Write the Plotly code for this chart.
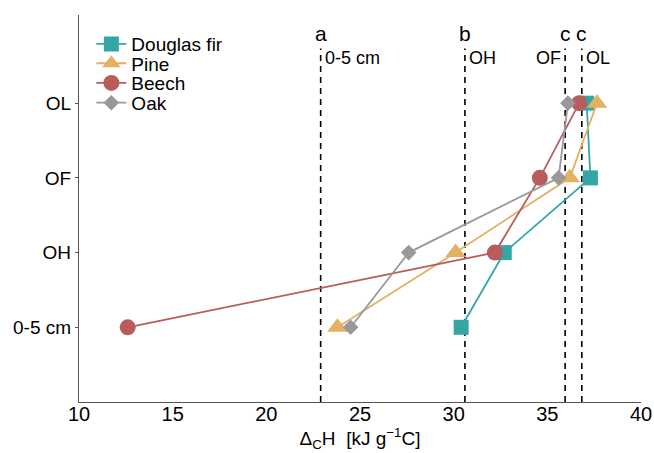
import plotly.graph_objects as go

layers = ["0-5 cm", "OH", "OF", "OL"]
species = ["Douglas fir", "Pine", "Beech", "Oak"]
values = {
    "Douglas fir": [30.4, 32.7, 37.3, 37.1],
    "Pine": [23.8, 30.1, 36.2, 37.65],
    "Beech": [12.6, 32.2, 34.6, 36.7],
    "Oak": [24.5, 27.6, 35.6, 36.1],
}
colors = {"Douglas fir": "#35A6A6", "Pine": "#E4B061", "Beech": "#B95C5C", "Oak": "#999999"}
symbols = {"Douglas fir": "square", "Pine": "triangle-up", "Beech": "circle", "Oak": "diamond"}
sizes = {"Douglas fir": 15, "Pine": 18, "Beech": 16, "Oak": 12}

vlines_x = [22.9, 30.6, 35.95, 36.84]
vline_letters = ["a", "b", "c", "c"]
vline_labels = ["0-5 cm", "OH", "OF", "OL"]
vline_label_side = ["right", "right", "left", "right"]

ypos = list(range(1, len(layers) + 1))
FONT = "Liberation Sans, Arial, sans-serif"

fig = go.Figure()

for x in vlines_x:
    fig.add_trace(go.Scatter(x=[x, x], y=[0, 4.73], mode="lines",
                             line=dict(color="black", width=1.6, dash="6px,5px"),
                             showlegend=False, hoverinfo="skip"))

legend_names = ["legend", "legend2", "legend3", "legend4"]
legend_y = [0.925, 0.875, 0.824, 0.773]
for sp, lg in zip(species, legend_names):
    fig.add_trace(go.Scatter(
        x=values[sp], y=ypos, mode="lines+markers", name=sp, legend=lg,
        line=dict(color=colors[sp], width=1.8),
        marker=dict(symbol=symbols[sp], size=sizes[sp], color=colors[sp]),
    ))

for x, letter, lab, side in zip(vlines_x, vline_letters, vline_labels, vline_label_side):
    fig.add_annotation(x=x, y=4.93, text=letter, showarrow=False, xanchor="center",
                       yanchor="middle", font=dict(size=21, color="black", family=FONT))
    fig.add_annotation(x=x, y=4.6, text=lab, showarrow=False,
                       xanchor="left" if side == "right" else "right",
                       xshift=2 if side == "right" else -2,
                       yanchor="middle", font=dict(size=18, color="black", family=FONT))

legend_common = dict(x=0.022, xanchor="left", yanchor="middle",
                     font=dict(size=19, family=FONT, color="black"),
                     bgcolor="rgba(0,0,0,0)", itemwidth=30)
layout_legends = {}
for lg, ly in zip(legend_names, legend_y):
    layout_legends[lg] = dict(y=ly, **legend_common)

fig.update_layout(
    width=654, height=453,
    margin=dict(l=79, r=13, t=15, b=51, autoexpand=False),
    plot_bgcolor="white", paper_bgcolor="white",
    font=dict(family=FONT, size=18, color="black"),
    xaxis=dict(range=[10, 40], tickvals=[10, 15, 20, 25, 30, 35, 40],
               showgrid=False, zeroline=False, showline=True, linecolor="#555555",
               linewidth=1.2, ticks="", automargin=False, ticklabelstandoff=-6,
               tickfont=dict(size=20, color="black"),
               title=dict(text="Δ<sub>C</sub>H  [kJ g<sup>−1</sup>C]", standoff=2,
                          font=dict(size=19, color="black"))),
    yaxis=dict(range=[0, 5.18], tickvals=ypos, ticktext=layers, automargin=False,
               showgrid=False, zeroline=False, showline=True, linecolor="#555555",
               linewidth=1.2, ticks="outside", ticklen=3, tickcolor="#555555",
               tickfont=dict(size=19, color="black")),
    **layout_legends,
)

fig.write_html("out.html")
